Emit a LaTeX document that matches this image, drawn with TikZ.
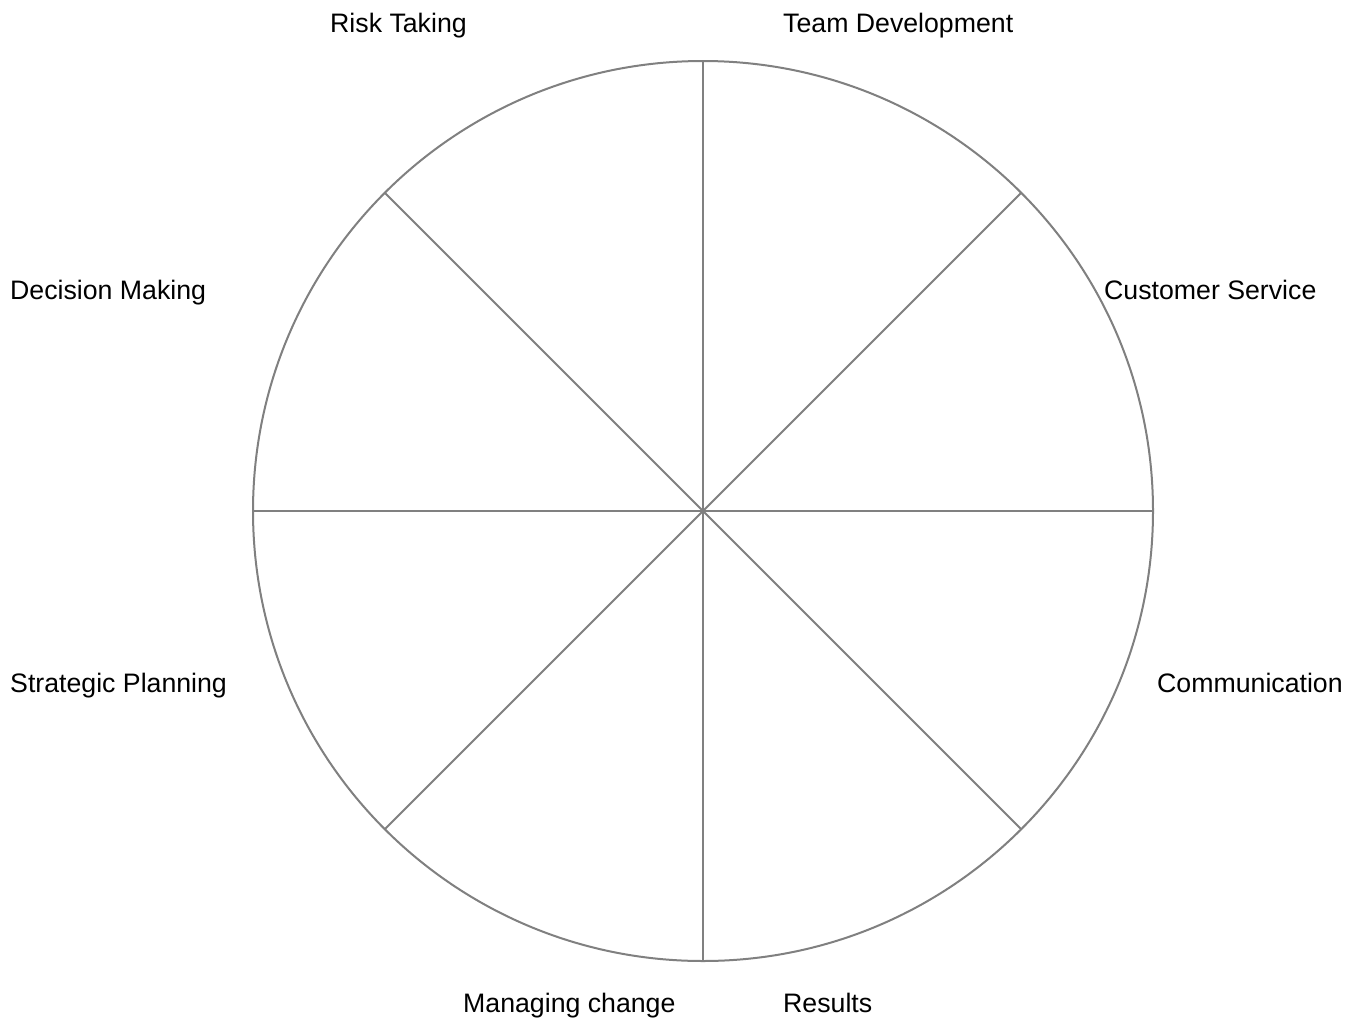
\documentclass[tikz,border=0pt]{standalone}
\usepackage{fontspec}
\setmainfont{Liberation Sans}
\usetikzlibrary{calc}
\definecolor{wheelgray}{HTML}{808080}
\begin{document}
\begin{tikzpicture}[x=1pt,y=-1pt,
  wheel/.style={draw=wheelgray,line width=2pt},
  lbl/.style={anchor=base west,inner sep=0pt,font=\fontsize{26.7}{31}\selectfont,text=black}]
\useasboundingbox[fill=white] (0,0) rectangle (1356,1017);
\coordinate (c) at (703,511);
\draw[wheel] (c) circle[radius=450];
\foreach \a in {0,45,...,315}{
  \coordinate (e\a) at ($(c)+(\a:450)$);
}
\foreach \a in {0,45,90,135}{
  \pgfmathtruncatemacro{\b}{\a+180}
  \draw[wheel] (e\a) -- (e\b);
}
\node[lbl] (risk) at (330,32) {Risk Taking};
\node[lbl] (team) at (783,32) {Team Development};
\node[lbl] (dec) at (10,299) {Decision Making};
\node[lbl] (cust) at (1104,299) {Customer Service};
\node[lbl] (strat) at (10,692) {Strategic Planning};
\node[lbl] (comm) at (1157,692) {Communication};
\node[lbl] (manag) at (463,1012) {Managing change};
\node[lbl] (res) at (783,1012) {Results};
\end{tikzpicture}
\end{document}
